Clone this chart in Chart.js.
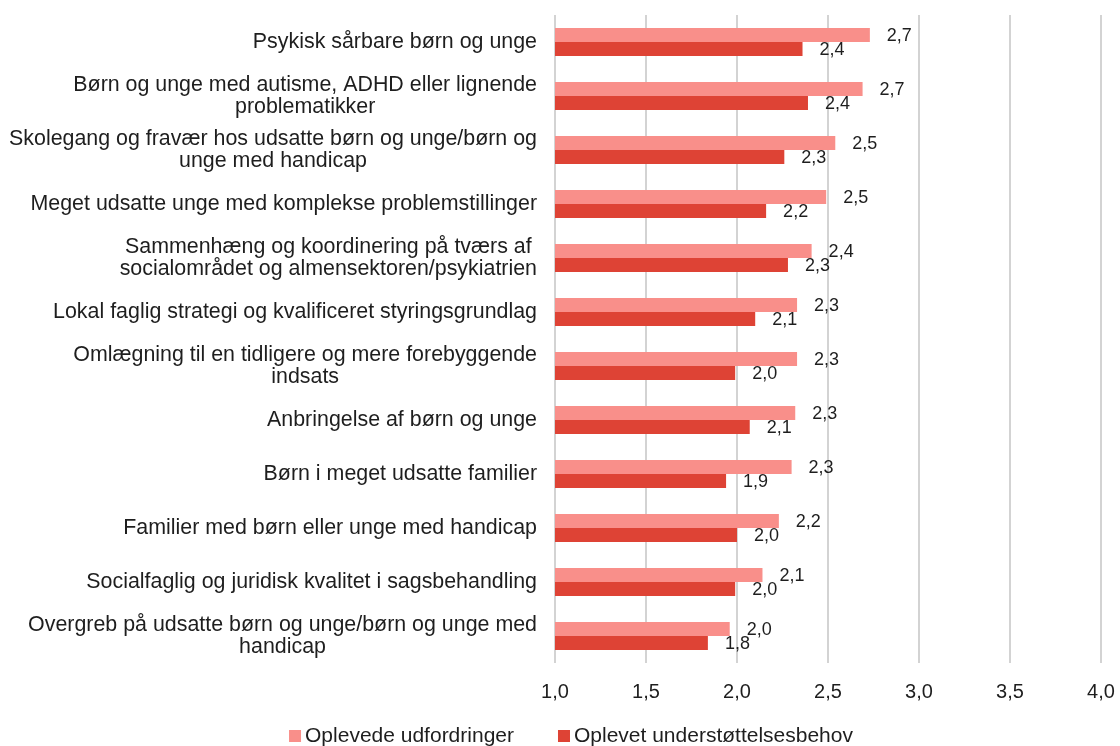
<!DOCTYPE html>
<html lang="da">
<head>
  <meta charset="UTF-8">
  <title>Udfordringer og understøttelsesbehov</title>
  <script src="https://cdn.jsdelivr.net/npm/chart.js"></script>
  <style>
    html, body { margin: 0; padding: 0; background: #fff; }
    #wrap { width: 1120px; height: 746px; }
  </style>
</head>
<body>
  <div id="wrap"><canvas id="graf"></canvas></div>

  <script>
    const kategorier = [
      "Psykisk sårbare børn og unge",
      ["Børn og unge med autisme, ADHD eller lignende", "problematikker"],
      ["Skolegang og fravær hos udsatte børn og unge/børn og", "unge med handicap"],
      "Meget udsatte unge med komplekse problemstillinger",
      ["Sammenhæng og koordinering på tværs af", "socialområdet og almensektoren/psykiatrien"],
      "Lokal faglig strategi og kvalificeret styringsgrundlag",
      ["Omlægning til en tidligere og mere forebyggende", "indsats"],
      "Anbringelse af børn og unge",
      "Børn i meget udsatte familier",
      "Familier med børn eller unge med handicap",
      "Socialfaglig og juridisk kvalitet i sagsbehandling",
      ["Overgreb på udsatte børn og unge/børn og unge med", "handicap"]
    ];

    const udfordringer = [2.73, 2.69, 2.54, 2.49, 2.41, 2.33, 2.33, 2.32, 2.30, 2.23, 2.14, 1.96];
    const stoettebehov = [2.36, 2.39, 2.26, 2.16, 2.28, 2.10, 1.99, 2.07, 1.94, 2.00, 1.99, 1.84];

    const serieNavne = ["Oplevede udfordringer", "Oplevet understøttelsesbehov"];
    const farver = ["#f98f8a", "#de4335"];

    const FONT = "'Liberation Sans', Arial, sans-serif";
    const TEKST = "#1e1e1e";

    const fmt = v => v.toFixed(1).replace(".", ",");

    // y-aksens etiketter: højrestillet blok, linjer centreret inden i blokken
    const yEtiketter = {
      id: "yEtiketter",
      afterDraw(chart) {
        const { ctx, chartArea, scales } = chart;
        ctx.save();
        ctx.font = "21.4px " + FONT;
        ctx.fillStyle = TEKST;
        ctx.textAlign = "center";
        ctx.textBaseline = "middle";
        const hoejre = chartArea.left - 18;
        const lh = 22;
        kategorier.forEach((lab, i) => {
          const linjer = Array.isArray(lab) ? lab : [lab];
          const w = Math.max(...linjer.map(l => ctx.measureText(l).width));
          const cx = hoejre - w / 2;
          const yc = scales.y.getPixelForTick(i);
          const y0 = yc - (linjer.length - 1) * lh / 2;
          linjer.forEach((l, j) => ctx.fillText(l, cx, y0 + j * lh));
        });
        ctx.restore();
      }
    };

    // værdier til højre for søjlerne
    const vaerdiEtiketter = {
      id: "vaerdiEtiketter",
      afterDatasetsDraw(chart) {
        const { ctx } = chart;
        ctx.save();
        ctx.font = "18px " + FONT;
        ctx.fillStyle = TEKST;
        ctx.textAlign = "left";
        ctx.textBaseline = "middle";
        chart.data.datasets.forEach((ds, d) => {
          chart.getDatasetMeta(d).data.forEach((bar, i) => {
            ctx.fillText(fmt(ds.data[i]), bar.x + 17, bar.y + 1);
          });
        });
        ctx.restore();
      }
    };

    // forklaring nederst
    const forklaring = {
      id: "forklaring",
      afterDraw(chart) {
        const { ctx } = chart;
        ctx.save();
        ctx.font = "21px " + FONT;
        ctx.textBaseline = "middle";
        ctx.textAlign = "left";
        const box = 12, gab = 4, mellem = 44;
        const bredder = serieNavne.map(n => box + gab + ctx.measureText(n).width);
        const total = bredder[0] + mellem + bredder[1];
        let x = 571 - total / 2;
        const y = 736;
        serieNavne.forEach((n, i) => {
          ctx.fillStyle = farver[i];
          ctx.fillRect(x, y - box / 2, box, box);
          ctx.fillStyle = TEKST;
          ctx.fillText(n, x + box + gab, y);
          x += bredder[i] + mellem;
        });
        ctx.restore();
      }
    };

    new Chart(document.getElementById("graf"), {
      type: "bar",
      data: {
        labels: kategorier,
        datasets: [
          { label: serieNavne[0], data: udfordringer, backgroundColor: farver[0], borderWidth: 0 },
          { label: serieNavne[1], data: stoettebehov, backgroundColor: farver[1], borderWidth: 0 }
        ]
      },
      options: {
        indexAxis: "y",
        responsive: true,
        maintainAspectRatio: false,
        animation: false,
        layout: { padding: { top: 15, right: 19, bottom: 33, left: 0 } },
        datasets: { bar: { categoryPercentage: 0.52, barPercentage: 1 } },
        plugins: {
          legend: { display: false },
          tooltip: { enabled: false }
        },
        scales: {
          x: {
            min: 1,
            max: 4,
            ticks: {
              stepSize: 0.5,
              padding: 17,
              color: TEKST,
              font: { family: FONT, size: 20 },
              callback: v => fmt(v)
            },
            grid: { color: "#d3d3d3", lineWidth: 2, drawTicks: false },
            border: { display: false },
            afterFit(s) {
              s.height = 50;
              s.paddingLeft = 0;
              s.paddingRight = 0;
            }
          },
          y: {
            ticks: { display: false },
            grid: { display: false },
            border: { display: false },
            afterFit(s) { s.width = 555; }
          }
        }
      },
      plugins: [yEtiketter, vaerdiEtiketter, forklaring]
    });
  </script>
</body>
</html>
